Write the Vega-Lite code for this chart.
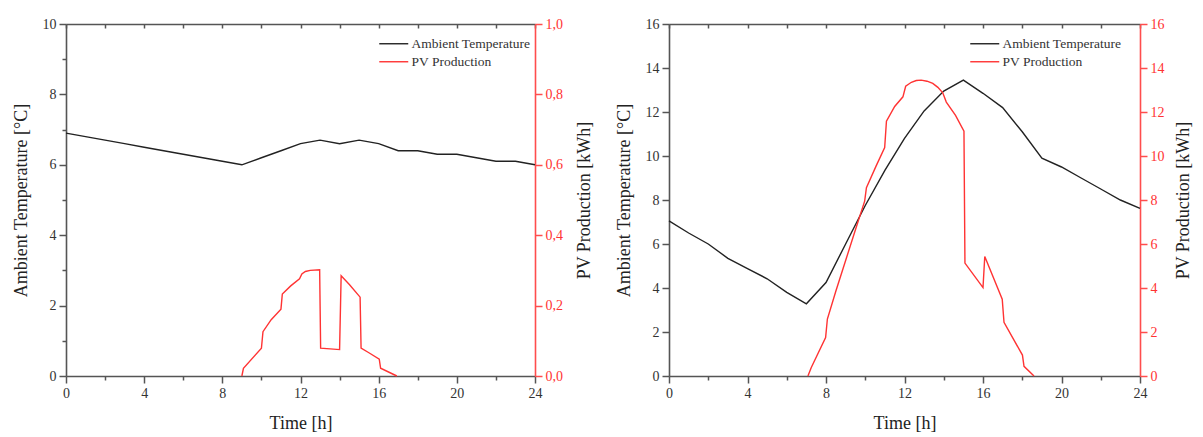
{
  "$schema": "https://vega.github.io/schema/vega-lite/v6.json",
  "background": "white",
  "padding": {"left": 12, "top": 17, "right": 5, "bottom": 5},
  "config": {
    "font": "Liberation Serif",
    "view": {"stroke": null},
    "axis": {
      "labelFont": "Liberation Serif",
      "titleFont": "Liberation Serif",
      "labelFontSize": 14,
      "titleFontSize": 18,
      "titleFontWeight": "normal",
      "labelColor": "#333333",
      "titleColor": "#222222",
      "domainColor": "#555555",
      "tickColor": "#555555",
      "domainWidth": 1.6,
      "tickWidth": 1.5,
      "grid": false,
      "labelFlush": false,
      "labelOverlap": false
    },
    "legend": {
      "labelFont": "Liberation Serif",
      "labelFontSize": 13.5,
      "labelColor": "#333333"
    }
  },
  "datasets": {
    "day1": [
      {"t": 0, "series": "Ambient Temperature", "value": 6.9},
      {"t": 1, "series": "Ambient Temperature", "value": 6.8},
      {"t": 2, "series": "Ambient Temperature", "value": 6.7},
      {"t": 3, "series": "Ambient Temperature", "value": 6.6},
      {"t": 4, "series": "Ambient Temperature", "value": 6.5},
      {"t": 5, "series": "Ambient Temperature", "value": 6.4},
      {"t": 6, "series": "Ambient Temperature", "value": 6.3},
      {"t": 7, "series": "Ambient Temperature", "value": 6.2},
      {"t": 8, "series": "Ambient Temperature", "value": 6.1},
      {"t": 9, "series": "Ambient Temperature", "value": 6.0},
      {"t": 10, "series": "Ambient Temperature", "value": 6.2},
      {"t": 11, "series": "Ambient Temperature", "value": 6.4},
      {"t": 12, "series": "Ambient Temperature", "value": 6.6},
      {"t": 13, "series": "Ambient Temperature", "value": 6.7},
      {"t": 14, "series": "Ambient Temperature", "value": 6.6},
      {"t": 15, "series": "Ambient Temperature", "value": 6.7},
      {"t": 16, "series": "Ambient Temperature", "value": 6.6},
      {"t": 17, "series": "Ambient Temperature", "value": 6.4},
      {"t": 18, "series": "Ambient Temperature", "value": 6.4},
      {"t": 19, "series": "Ambient Temperature", "value": 6.3},
      {"t": 20, "series": "Ambient Temperature", "value": 6.3},
      {"t": 21, "series": "Ambient Temperature", "value": 6.2},
      {"t": 22, "series": "Ambient Temperature", "value": 6.1},
      {"t": 23, "series": "Ambient Temperature", "value": 6.1},
      {"t": 24, "series": "Ambient Temperature", "value": 6.0},
      {"t": 9.0, "series": "PV Production", "value": 0.0},
      {"t": 9.08, "series": "PV Production", "value": 0.022},
      {"t": 10.0, "series": "PV Production", "value": 0.079},
      {"t": 10.08, "series": "PV Production", "value": 0.126},
      {"t": 10.5, "series": "PV Production", "value": 0.16},
      {"t": 11.0, "series": "PV Production", "value": 0.19},
      {"t": 11.07, "series": "PV Production", "value": 0.233},
      {"t": 11.5, "series": "PV Production", "value": 0.256},
      {"t": 11.95, "series": "PV Production", "value": 0.276},
      {"t": 12.07, "series": "PV Production", "value": 0.29},
      {"t": 12.25, "series": "PV Production", "value": 0.297},
      {"t": 12.5, "series": "PV Production", "value": 0.3},
      {"t": 12.98, "series": "PV Production", "value": 0.302},
      {"t": 13.03, "series": "PV Production", "value": 0.079},
      {"t": 14.0, "series": "PV Production", "value": 0.075},
      {"t": 14.08, "series": "PV Production", "value": 0.285},
      {"t": 14.5, "series": "PV Production", "value": 0.26},
      {"t": 15.05, "series": "PV Production", "value": 0.224},
      {"t": 15.1, "series": "PV Production", "value": 0.079},
      {"t": 15.5, "series": "PV Production", "value": 0.066},
      {"t": 16.03, "series": "PV Production", "value": 0.048},
      {"t": 16.1, "series": "PV Production", "value": 0.022},
      {"t": 16.93, "series": "PV Production", "value": 0.0}
    ],
    "day2": [
      {"t": 0, "series": "Ambient Temperature", "value": 7.05},
      {"t": 1, "series": "Ambient Temperature", "value": 6.5},
      {"t": 2, "series": "Ambient Temperature", "value": 6.0},
      {"t": 3, "series": "Ambient Temperature", "value": 5.35},
      {"t": 4, "series": "Ambient Temperature", "value": 4.88},
      {"t": 5, "series": "Ambient Temperature", "value": 4.42},
      {"t": 6, "series": "Ambient Temperature", "value": 3.8},
      {"t": 7, "series": "Ambient Temperature", "value": 3.28},
      {"t": 8, "series": "Ambient Temperature", "value": 4.25},
      {"t": 9, "series": "Ambient Temperature", "value": 6.0},
      {"t": 10, "series": "Ambient Temperature", "value": 7.75},
      {"t": 11, "series": "Ambient Temperature", "value": 9.35},
      {"t": 12, "series": "Ambient Temperature", "value": 10.8},
      {"t": 13, "series": "Ambient Temperature", "value": 12.05},
      {"t": 14, "series": "Ambient Temperature", "value": 12.95},
      {"t": 15, "series": "Ambient Temperature", "value": 13.45},
      {"t": 16, "series": "Ambient Temperature", "value": 12.85},
      {"t": 17, "series": "Ambient Temperature", "value": 12.2},
      {"t": 18, "series": "Ambient Temperature", "value": 11.1},
      {"t": 19, "series": "Ambient Temperature", "value": 9.9},
      {"t": 20, "series": "Ambient Temperature", "value": 9.5},
      {"t": 21, "series": "Ambient Temperature", "value": 9.0},
      {"t": 22, "series": "Ambient Temperature", "value": 8.5},
      {"t": 23, "series": "Ambient Temperature", "value": 8.0},
      {"t": 24, "series": "Ambient Temperature", "value": 7.62},
      {"t": 7.08, "series": "PV Production", "value": 0.0},
      {"t": 7.25, "series": "PV Production", "value": 0.39},
      {"t": 7.98, "series": "PV Production", "value": 1.75},
      {"t": 8.07, "series": "PV Production", "value": 2.59},
      {"t": 8.5, "series": "PV Production", "value": 3.85},
      {"t": 9.0, "series": "PV Production", "value": 5.25},
      {"t": 9.5, "series": "PV Production", "value": 6.65},
      {"t": 9.97, "series": "PV Production", "value": 7.95},
      {"t": 10.06, "series": "PV Production", "value": 8.56},
      {"t": 10.55, "series": "PV Production", "value": 9.54},
      {"t": 10.99, "series": "PV Production", "value": 10.38},
      {"t": 11.08, "series": "PV Production", "value": 11.58},
      {"t": 11.5, "series": "PV Production", "value": 12.25},
      {"t": 11.92, "series": "PV Production", "value": 12.69},
      {"t": 12.06, "series": "PV Production", "value": 13.17},
      {"t": 12.35, "series": "PV Production", "value": 13.35},
      {"t": 12.6, "series": "PV Production", "value": 13.43},
      {"t": 12.85, "series": "PV Production", "value": 13.45},
      {"t": 13.15, "series": "PV Production", "value": 13.4},
      {"t": 13.44, "series": "PV Production", "value": 13.3},
      {"t": 13.7, "series": "PV Production", "value": 13.12},
      {"t": 13.95, "series": "PV Production", "value": 12.87},
      {"t": 14.13, "series": "PV Production", "value": 12.45},
      {"t": 14.6, "series": "PV Production", "value": 11.85},
      {"t": 15.03, "series": "PV Production", "value": 11.13},
      {"t": 15.08, "series": "PV Production", "value": 5.13},
      {"t": 16.0, "series": "PV Production", "value": 4.02},
      {"t": 16.09, "series": "PV Production", "value": 5.43},
      {"t": 16.98, "series": "PV Production", "value": 3.49},
      {"t": 17.07, "series": "PV Production", "value": 2.44},
      {"t": 18.01, "series": "PV Production", "value": 0.95},
      {"t": 18.09, "series": "PV Production", "value": 0.44},
      {"t": 18.6, "series": "PV Production", "value": 0.0}
    ]
  },
  "hconcat": [
    {
      "width": 469,
      "height": 352,
      "data": {"name": "day1"},
      "layer": [
        {
          "transform": [{"filter": "datum.series === 'Ambient Temperature'"}],
          "mark": {"type": "line", "strokeWidth": 1.4},
          "encoding": {
            "x": {
              "field": "t", "type": "quantitative",
              "scale": {"domain": [0, 24], "nice": false},
              "axis": {
                "title": "Time [h]",
                "values": [0, 2, 4, 6, 8, 10, 12, 14, 16, 18, 20, 22, 24],
                "labelExpr": "datum.value % 4 === 0 ? datum.label : ''",
                "tickSize": {"condition": {"test": "datum.value % 4 === 0", "value": 7}, "value": 4},
                "labelPadding": 3,
                "titlePadding": 14
              }
            },
            "y": {
              "field": "value", "type": "quantitative",
              "scale": {"domain": [0, 10], "nice": false},
              "axis": {
                "title": "Ambient Temperature [°C]",
                "values": [0, 1, 2, 3, 4, 5, 6, 7, 8, 9, 10],
                "labelExpr": "datum.value % 2 === 0 ? datum.label : ''",
                "tickSize": {"condition": {"test": "datum.value % 2 === 0", "value": 7}, "value": 4},
                "labelPadding": 3,
                "titlePadding": 12
              }
            },
            "color": {
              "field": "series", "type": "nominal",
              "scale": {"domain": ["Ambient Temperature", "PV Production"], "range": ["#222222", "#ff3333"]},
              "legend": {
                "title": null, "orient": "none", "legendX": 321, "legendY": 13,
                "symbolType": "M-2.9,0H2.9", "symbolSize": 100, "symbolStrokeWidth": 1.4,
                "labelOffset": 11, "rowPadding": 3, "padding": 0
              }
            }
          }
        },
        {
          "transform": [{"filter": "datum.series === 'PV Production'"}],
          "mark": {"type": "line", "strokeWidth": 1.4},
          "encoding": {
            "x": {
              "field": "t", "type": "quantitative",
              "scale": {"domain": [0, 24], "nice": false},
              "axis": {
                "orient": "top", "title": null, "labels": false,
                "values": [0, 2, 4, 6, 8, 10, 12, 14, 16, 18, 20, 22, 24],
                "tickSize": -4
              }
            },
            "y": {
              "field": "value", "type": "quantitative",
              "scale": {"domain": [0, 1], "nice": false},
              "axis": {
                "orient": "right",
                "title": "PV Production [kWh]",
                "titleAngle": -90,
                "titleBaseline": "top",
                "values": [0, 0.2, 0.4, 0.6, 0.8, 1.0],
                "labelExpr": "replace(format(datum.value, '.1f'), '.', ',')",
                "tickSize": 7,
                "labelPadding": 3,
                "titlePadding": 13,
                "domainColor": "#ff4d4d",
                "tickColor": "#ff4d4d",
                "labelColor": "#ff3333"
              }
            },
            "color": {"field": "series", "type": "nominal"}
          }
        }
      ],
      "resolve": {"scale": {"y": "independent"}, "axis": {"x": "independent"}}
    },
    {
      "width": 471,
      "height": 352,
      "data": {"name": "day2"},
      "layer": [
        {
          "transform": [{"filter": "datum.series === 'Ambient Temperature'"}],
          "mark": {"type": "line", "strokeWidth": 1.4},
          "encoding": {
            "x": {
              "field": "t", "type": "quantitative",
              "scale": {"domain": [0, 24], "nice": false},
              "axis": {
                "title": "Time [h]",
                "values": [0, 2, 4, 6, 8, 10, 12, 14, 16, 18, 20, 22, 24],
                "labelExpr": "datum.value % 4 === 0 ? datum.label : ''",
                "tickSize": {"condition": {"test": "datum.value % 4 === 0", "value": 7}, "value": 4},
                "labelPadding": 3,
                "titlePadding": 14
              }
            },
            "y": {
              "field": "value", "type": "quantitative",
              "scale": {"domain": [0, 16], "nice": false},
              "axis": {
                "title": "Ambient Temperature [°C]",
                "values": [0, 2, 4, 6, 8, 10, 12, 14, 16],
                "tickSize": 7,
                "labelPadding": 3,
                "titlePadding": 12
              }
            },
            "color": {
              "field": "series", "type": "nominal",
              "scale": {"domain": ["Ambient Temperature", "PV Production"], "range": ["#222222", "#ff3333"]},
              "legend": {
                "title": null, "orient": "none", "legendX": 309, "legendY": 13,
                "symbolType": "M-2.9,0H2.9", "symbolSize": 100, "symbolStrokeWidth": 1.4,
                "labelOffset": 11, "rowPadding": 3, "padding": 0
              }
            }
          }
        },
        {
          "transform": [{"filter": "datum.series === 'PV Production'"}],
          "mark": {"type": "line", "strokeWidth": 1.4},
          "encoding": {
            "x": {
              "field": "t", "type": "quantitative",
              "scale": {"domain": [0, 24], "nice": false},
              "axis": {
                "orient": "top", "title": null, "labels": false,
                "values": [0, 2, 4, 6, 8, 10, 12, 14, 16, 18, 20, 22, 24],
                "tickSize": -4
              }
            },
            "y": {
              "field": "value", "type": "quantitative",
              "scale": {"domain": [0, 16], "nice": false},
              "axis": {
                "orient": "right",
                "title": "PV Production [kWh]",
                "titleAngle": -90,
                "titleBaseline": "top",
                "values": [0, 2, 4, 6, 8, 10, 12, 14, 16],
                "tickSize": 7,
                "labelPadding": 3,
                "titlePadding": 10,
                "domainColor": "#ff4d4d",
                "tickColor": "#ff4d4d",
                "labelColor": "#ff3333"
              }
            },
            "color": {"field": "series", "type": "nominal"}
          }
        }
      ],
      "resolve": {"scale": {"y": "independent"}, "axis": {"x": "independent"}}
    }
  ],
  "spacing": 21,
  "resolve": {"scale": {"color": "independent"}}
}
